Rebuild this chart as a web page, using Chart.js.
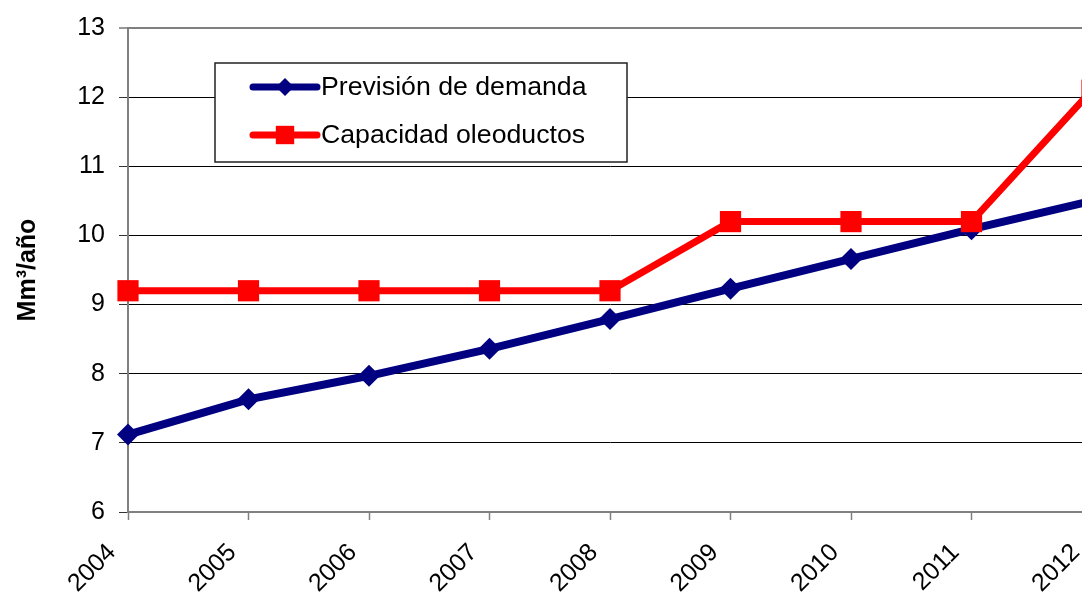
<!DOCTYPE html>
<html>
<head>
<meta charset="utf-8">
<script src="https://cdn.jsdelivr.net/npm/chart.js@4.4.0/dist/chart.umd.min.js"></script>
<style>
    html, body { margin: 0; padding: 0; background: #fff; overflow: hidden; }
    #wrap { width: 1107px; height: 594px; position: relative; }
</style>
</head>
<body>
<div id="wrap"><canvas id="demandChart"></canvas></div>
<script>
// datos
const years = ['2004', '2005', '2006', '2007', '2008', '2009', '2010', '2011', '2012'];
const demanda = [7.12, 7.63, 7.97, 8.36, 8.79, 9.23, 9.66, 10.09, 10.5];
const capacidad = [9.2, 9.2, 9.2, 9.2, 9.2, 10.2, 10.2, 10.2, 12.1];
const yMin = 6, yMax = 13, yStep = 1;

const FONT = "'Liberation Sans', Arial, sans-serif";

// leyenda con recuadro dentro del área del gráfico
const boxLegend = {
    id: 'boxLegend',
    beforeDatasetsDraw(chart) {
        const ctx = chart.ctx;
        const a = chart.chartArea;
        const bx = a.left + 87, by = a.top + 35, bw = 412, bh = 99;
        ctx.save();
        ctx.fillStyle = '#fff';
        ctx.fillRect(bx, by, bw, bh);
        ctx.strokeStyle = '#222';
        ctx.lineWidth = 1.5;
        ctx.strokeRect(bx, by, bw, bh);

        chart.data.datasets.forEach((ds, i) => {
            const y = by + 24 + i * 48;
            ctx.strokeStyle = ds.borderColor;
            ctx.lineWidth = 7;
            ctx.lineCap = 'round';
            ctx.beginPath();
            ctx.moveTo(bx + 38, y);
            ctx.lineTo(bx + 102, y);
            ctx.stroke();
            ctx.fillStyle = ds.borderColor;
            Chart.helpers.drawPoint(ctx, {
                pointStyle: ds.pointStyle,
                radius: ds.legendRadius,
                rotation: 0,
                borderWidth: 0
            }, bx + 70, y);
            ctx.fillStyle = '#000';
            ctx.font = '26.7px ' + FONT;
            ctx.textBaseline = 'middle';
            ctx.fillText(ds.label, bx + 106, y + 1);
        });
        ctx.restore();
    }
};

new Chart(document.getElementById('demandChart'), {
    type: 'line',
    data: {
        labels: years,
        datasets: [{
            label: 'Previsión de demanda',
            data: demanda,
            borderColor: '#000080',
            backgroundColor: '#000080',
            borderWidth: 8,
            pointStyle: 'rectRot',
            pointRadius: 11,
            pointBorderWidth: 0,
            pointBackgroundColor: '#000080',
            legendRadius: 9,
            tension: 0,
            order: 1
        }, {
            label: 'Capacidad oleoductos',
            data: capacidad,
            borderColor: '#ff0000',
            backgroundColor: '#ff0000',
            borderWidth: 7,
            pointStyle: 'rect',
            pointRadius: 15,
            pointBorderWidth: 0,
            pointBackgroundColor: '#ff0000',
            legendRadius: 13,
            tension: 0,
            order: 0
        }]
    },
    options: {
        responsive: true,
        maintainAspectRatio: false,
        animation: false,
        layout: { padding: { top: 28, right: 7.5, left: 0, bottom: 0 } },
        plugins: { legend: { display: false }, tooltip: { enabled: false } },
        scales: {
            x: {
                offset: false,
                afterFit(scale) {
                    scale.height = 82;
                    scale.paddingLeft = 0;
                    scale.paddingRight = 0;
                },
                grid: {
                    drawOnChartArea: false,
                    drawTicks: true,
                    tickLength: 8,
                    tickColor: '#808080',
                    tickWidth: 1.5
                },
                border: { color: '#808080', width: 2 },
                ticks: {
                    color: '#000',
                    font: { family: FONT, size: 25 },
                    minRotation: 45,
                    maxRotation: 45,
                    autoSkip: false,
                    padding: 18,
                    labelOffset: -16
                }
            },
            y: {
                min: yMin,
                max: yMax,
                afterFit(scale) {
                    scale.width = 128;
                    scale.paddingTop = 0;
                    scale.paddingBottom = 0;
                },
                grid: {
                    color: ctx => ctx.tick && ctx.tick.value === yMax ? '#808080' : '#000',
                    lineWidth: ctx => ctx.tick && ctx.tick.value === yMax ? 2 : 1,
                    tickLength: 9,
                    tickColor: '#333',
                    tickWidth: 1
                },
                border: { color: '#808080', width: 2 },
                ticks: {
                    stepSize: yStep,
                    color: '#000',
                    font: { family: FONT, size: 25 },
                    padding: 14
                },
                title: {
                    display: true,
                    text: 'Mm³/año',
                    color: '#000',
                    font: { family: FONT, size: 25, weight: 'bold' },
                    padding: { top: 13, bottom: 0 }
                }
            }
        }
    },
    plugins: [boxLegend]
});
</script>
</body>
</html>
